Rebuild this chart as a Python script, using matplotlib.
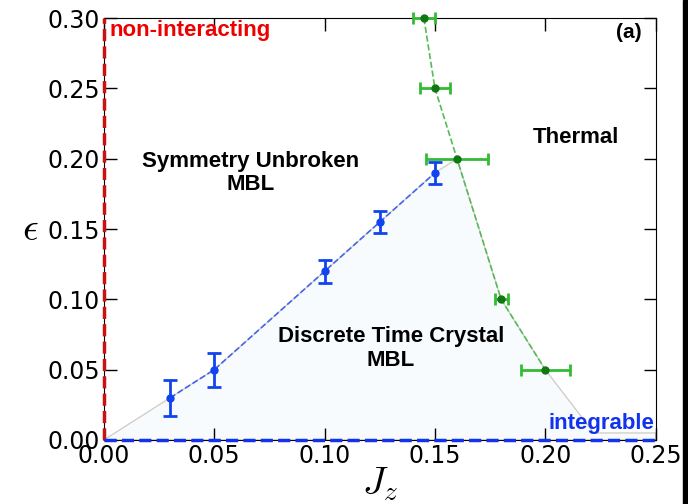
import matplotlib
matplotlib.use("Agg")
import matplotlib.pyplot as plt
import numpy as np

# DTC / MBL boundary (blue)
jz_blue = [0.03, 0.05, 0.10, 0.125, 0.15]
eps_blue = [0.03, 0.05, 0.12, 0.155, 0.19]
eps_blue_err = [0.013, 0.012, 0.008, 0.008, 0.008]

# thermal boundary (green)
jz_green = [0.145, 0.15, 0.16, 0.18, 0.20]
eps_green = [0.30, 0.25, 0.20, 0.10, 0.05]
jz_green_err = [0.005, 0.007, 0.014, 0.003, 0.011]

# outline of the crystal region
region_x = [0.0, 0.03, 0.05, 0.10, 0.125, 0.15, 0.16, 0.18, 0.20, 0.222, 0.25, 0.25, 0.0]
region_y = [0.0, 0.03, 0.05, 0.12, 0.155, 0.19, 0.20, 0.10, 0.05, 0.005, 0.005, 0.0, 0.0]

plt.rcParams["font.family"] = ["DejaVu Sans"]
plt.rcParams["mathtext.fontset"] = "cm"
bold = ["Liberation Sans", "DejaVu Sans"]

fig = plt.figure(figsize=(6.88, 5.04), dpi=100)
ax = fig.add_axes([0.151, 0.127, 0.802, 0.837])

ax.fill(region_x, region_y, facecolor="#f8fbfe", edgecolor="#cfcac4", lw=0.9, zorder=1)

ax.plot(jz_blue, eps_blue, "--", color="#4466ee", lw=1.2, zorder=3)
ax.errorbar(jz_blue, eps_blue, yerr=eps_blue_err, fmt="o", color="#1144ee",
            ms=5, capsize=5, elinewidth=2, capthick=2, zorder=4)

ax.plot(jz_green, eps_green, "--", color="#55bb55", lw=1.2, zorder=3)
ax.errorbar(jz_green, eps_green, xerr=jz_green_err, fmt="o", color="#33bb33",
            mfc="#117711", mec="#117711", ms=5, capsize=4, elinewidth=2, capthick=2,
            zorder=4, clip_on=False)

ax.plot([0, 0], [0, 0.3], color="#cc1111", lw=2.5, dashes=(3.5, 1.5), zorder=5, clip_on=False)
ax.plot([0, 0.25], [0, 0], color="#1133ee", lw=2.5, dashes=(3.5, 1.5), zorder=5, clip_on=False)

ax.text(0.0025, 0.2985, "non-interacting", color="#ee0000", fontsize=16,
        fontweight="bold", ha="left", va="top", family=bold)
ax.text(0.2437, 0.29, "(a)", fontsize=15, fontweight="bold", ha="right", va="center",
        family=bold)
ax.text(0.214, 0.215, "Thermal", fontsize=16, fontweight="bold", ha="center",
        va="center", family=bold)
ax.text(0.0666, 0.19, "Symmetry Unbroken\nMBL", fontsize=16, fontweight="bold",
        ha="center", va="center", linespacing=1.15, family=bold)
ax.text(0.130, 0.065, "Discrete Time Crystal\nMBL", fontsize=16, fontweight="bold",
        ha="center", va="center", linespacing=1.15, family=bold)
ax.text(0.2495, 0.012, "integrable", color="#1133ee", fontsize=16,
        fontweight="bold", ha="right", va="center", family=bold)

ax.set_xlim(0, 0.25)
ax.set_ylim(0, 0.30)
ax.set_xticks(np.arange(0, 0.251, 0.05))
ax.set_yticks(np.arange(0, 0.301, 0.05))
ax.xaxis.set_major_formatter(matplotlib.ticker.FormatStrFormatter("%.2f"))
ax.yaxis.set_major_formatter(matplotlib.ticker.FormatStrFormatter("%.2f"))
ax.tick_params(direction="in", length=9, width=1, top=True, right=True,
               labelsize=17, pad=3)
ax.set_xlabel(r"$J_z$", fontsize=28, labelpad=-2)
ax.set_ylabel(r"$\epsilon$", fontsize=28, rotation=0, labelpad=12, va="center")

fig.patches.append(plt.Rectangle((0.993, 0), 0.01, 1, transform=fig.transFigure,
                                 color="black", zorder=10))

fig.savefig("out.png", dpi=100)
